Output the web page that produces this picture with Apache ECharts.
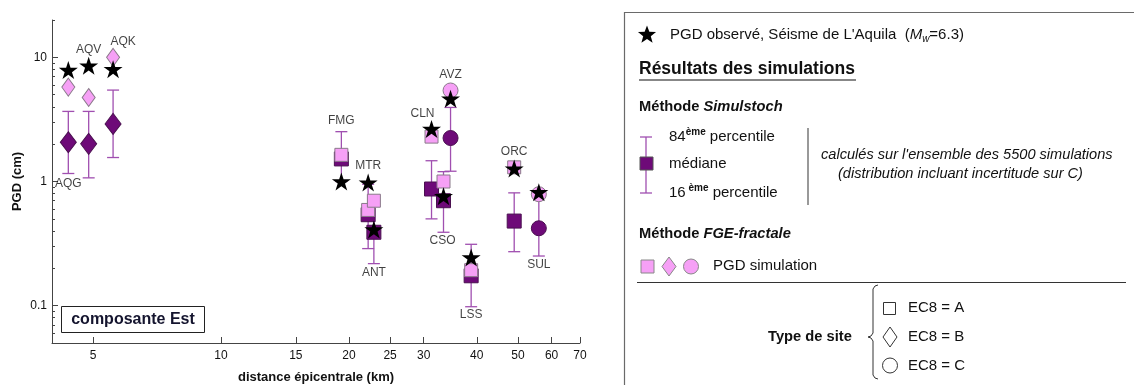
<!DOCTYPE html>
<html><head><meta charset="utf-8">
<script src="https://cdn.jsdelivr.net/npm/echarts@6/dist/echarts.min.js"></script>
<style>html,body{margin:0;padding:0;background:#fff}#c{width:1134px;height:385px}</style>
</head><body><div id="c"></div>
<script>
// ---------------- data ----------------
const stations = ['AQG','AQV','AQK','FMG','MTR','ANT','CLN','CSO','AVZ','LSS','ORC','SUL'];
const distanceKm = [4.37, 4.88, 5.57, 19.2, 22.2, 22.9, 31.3, 33.4, 34.7, 38.8, 49.0, 56.0];
const siteClass = ['B','B','B','A','A','A','A','A','C','A','A','C'];
const pgdObserved = [7.9, 8.55, 8.04, 1.0, 0.98, 0.41, 2.65, 0.76, 4.64, 0.244, 1.27, 0.82];
const pgdFgeFractal = [5.76, 4.75, 10.0, 1.64, 0.59, 0.70, 2.30, 1.0, 5.41, 0.193, 1.30, 0.79];
const pgdSimulstochMedian = [2.07, 2.01, 2.91, 1.52, 0.54, 0.39, 0.87, 0.70, 2.24, 0.174, 0.48, 0.42];
const pgdSimulstochP16 = [1.16, 1.07, 1.56, 1.0, 0.288, 0.218, 0.50, 0.39, 1.21, 0.098, 0.272, 0.251];
const pgdSimulstochP84 = [3.67, 3.67, 5.45, 2.52, 0.95, 0.68, 1.47, 1.20, 3.95, 0.312, 0.81, 0.76];
const xTickValues = [5, 10, 15, 20, 25, 30, 40, 50, 60, 70];
const yTickValues = [0.1, 1, 10];
const yMinorTickValues = [0.06,0.07,0.08,0.09,0.2,0.3,0.4,0.5,0.6,0.7,0.8,0.9,2,3,4,5,6,7,8,9,20];

// ---------------- styling / layout ----------------
const FONT = "'Liberation Sans', Arial, sans-serif";
const PINK = '#F6A0F6', PURPLE = '#6E0A78', ERR = '#A04FB0';
const STAR = 'path://M12,0 L14.8,8.6 L24,8.6 L16.6,14 L19.4,22.8 L12,17.4 L4.6,22.8 L7.4,14 L0,8.6 L9.2,8.6 Z';
const symbolBySite = {A: 'rect', B: 'diamond', C: 'circle'};
const pinkSize = {A: [13, 13], B: [13, 18], C: [15, 15]};
const purpleSize = {A: [14, 14], B: [16, 21], C: [15, 15]};
// station label placement: [position, distance, dx]
const labelPlacement = {
  AQG: ['bottom', 4, 0], AQV: ['top', 10, 0], AQK: ['top', 10, 10], FMG: ['top', 5, 0],
  MTR: ['top', 11, 0], ANT: ['bottom', 3, 0], CLN: ['top', 9, -9], CSO: ['bottom', 2, -1],
  AVZ: ['top', 10, 0], LSS: ['bottom', 2, 0], ORC: ['top', 10, 0], SUL: ['bottom', 3, 0]
};

const errData = stations.map((s, i) => [distanceKm[i], pgdSimulstochP16[i], pgdSimulstochP84[i]]);
const medianData = stations.map((s, i) => ({
  value: [distanceKm[i], pgdSimulstochMedian[i]],
  symbol: symbolBySite[siteClass[i]], symbolSize: purpleSize[siteClass[i]]
}));
const fgeData = stations.map((s, i) => ({
  value: [distanceKm[i], pgdFgeFractal[i]],
  symbol: symbolBySite[siteClass[i]], symbolSize: pinkSize[siteClass[i]]
}));
const obsData = stations.map((s, i) => [distanceKm[i], pgdObserved[i]]);
const labelData = stations.map((s, i) => {
  const p = labelPlacement[s];
  const vals = [pgdObserved[i], pgdFgeFractal[i], pgdSimulstochMedian[i], pgdSimulstochP16[i], pgdSimulstochP84[i]];
  const anchor = p[0] === 'top' ? Math.max(...vals) : Math.min(...vals);
  return {name: s, value: [distanceKm[i], anchor],
    label: {position: p[0], distance: p[1], offset: [p[2], 0]}};
});

// ---------------- legend graphics ----------------
function txt(x, y, text, extra) {
  return {type: 'text', x: x, y: y, style: Object.assign({text: text, font: '15px ' + FONT,
    fill: '#111', verticalAlign: 'middle', align: 'left'}, extra || {})};
}
function line(x1, y1, x2, y2, stroke, w) {
  return {type: 'line', shape: {x1, y1, x2, y2}, style: {stroke: stroke || '#111', lineWidth: w || 1}};
}
function starPoints(cx, cy, R) {
  const pts = [];
  for (let k = 0; k < 10; k++) {
    const r = k % 2 === 0 ? R : R * 0.42;
    const a = -Math.PI / 2 + k * Math.PI / 5;
    pts.push([cx + r * Math.cos(a), cy + r * Math.sin(a)]);
  }
  return pts;
}
const graphics = [
  // "composante Est" box
  {type: 'rect', shape: {x: 61.5, y: 306.5, width: 143, height: 26}, style: {fill: '#fff', stroke: '#222', lineWidth: 1}},
  txt(133, 320, 'composante Est', {font: 'bold 16px ' + FONT, align: 'center', fill: '#14142e'}),
  // legend frame
  {type: 'rect', shape: {x: 624.5, y: 12.5, width: 530, height: 390}, style: {fill: 'none', stroke: '#6a6a6a', lineWidth: 1.2}},
  {type: 'polygon', shape: {points: starPoints(647, 35, 9.5)}, style: {fill: '#000'}},
  {type: 'text', x: 670, y: 35, style: {
    text: "{n|PGD observé, Séisme de L'Aquila  (}{i|M}{s|w}{n|=6.3)}", fill: '#111', verticalAlign: 'middle',
    rich: {n: {font: '15px ' + FONT, lineHeight: 19, fill: '#111'},
           i: {font: 'italic 15px ' + FONT, lineHeight: 19, fill: '#111'},
           s: {font: 'italic 10px ' + FONT, lineHeight: 19, verticalAlign: 'bottom', fill: '#111'}}}},
  txt(639, 69, 'Résultats des simulations', {font: 'bold 17.5px ' + FONT}),
  line(639, 80, 856, 80, '#111', 1.2),
  {type: 'text', x: 639, y: 107, style: {text: '{b|Méthode }{bi|Simulstoch}', verticalAlign: 'middle',
    rich: {b: {font: 'bold 14.7px ' + FONT, fill: '#111'}, bi: {font: 'italic bold 14.7px ' + FONT, fill: '#111'}}}},
  // error bar legend
  line(646, 137, 646, 193, ERR, 1.3),
  line(640, 137, 652, 137, ERR, 1.3),
  line(640, 193, 652, 193, ERR, 1.3),
  {type: 'rect', shape: {x: 640, y: 157, width: 13, height: 13}, style: {fill: PURPLE, stroke: '#555', lineWidth: 1}},
  {type: 'text', x: 669, y: 137, style: {text: '{n|84}{s|ème}{n| percentile}', verticalAlign: 'middle',
    rich: {n: {font: '15px ' + FONT, lineHeight: 19, fill: '#111'}, s: {font: 'bold 10px ' + FONT, lineHeight: 19, verticalAlign: 'top', fill: '#111'}}}},
  txt(669, 164, 'médiane'),
  {type: 'text', x: 669, y: 193, style: {text: '{n|16}{s| ème}{n| percentile}', verticalAlign: 'middle',
    rich: {n: {font: '15px ' + FONT, lineHeight: 19, fill: '#111'}, s: {font: 'bold 10px ' + FONT, lineHeight: 19, verticalAlign: 'top', fill: '#111'}}}},
  line(808, 128, 808, 205, '#555', 1.2),
  txt(821, 155, "calculés sur l'ensemble des 5500 simulations", {font: 'italic 14.6px ' + FONT}),
  txt(838, 174, '(distribution incluant incertitude sur C)', {font: 'italic 14.6px ' + FONT}),
  {type: 'text', x: 639, y: 234, style: {text: '{b|Méthode }{bi|FGE-fractale}', verticalAlign: 'middle',
    rich: {b: {font: 'bold 14.7px ' + FONT, fill: '#111'}, bi: {font: 'italic bold 14.7px ' + FONT, fill: '#111'}}}},
  {type: 'rect', shape: {x: 641, y: 260, width: 13, height: 13}, style: {fill: PINK, stroke: '#888', lineWidth: 1}},
  {type: 'polygon', shape: {points: [[669, 257], [676, 266.5], [669, 276], [662, 266.5]]}, style: {fill: PINK, stroke: '#888', lineWidth: 1}},
  {type: 'circle', shape: {cx: 691, cy: 266.5, r: 7.5}, style: {fill: PINK, stroke: '#888', lineWidth: 1}},
  txt(713, 266, 'PGD simulation'),
  line(637, 282.5, 1126, 282.5, '#333', 1),
  txt(768, 337, 'Type de site', {font: 'bold 14.7px ' + FONT}),
  {type: 'polyline', shape: {points: [[878, 285], [875, 286], [873, 289], [873, 333], [871, 336], [868, 337],
    [871, 338], [873, 341], [873, 375], [875, 378], [878, 379]]},
    style: {fill: 'none', stroke: '#333', lineWidth: 1}},
  {type: 'rect', shape: {x: 883.5, y: 302.5, width: 12, height: 12}, style: {fill: 'none', stroke: '#333', lineWidth: 1}},
  txt(908, 308, 'EC8 = A'),
  {type: 'polygon', shape: {points: [[890, 327], [897, 337], [890, 347], [883, 337]]}, style: {fill: 'none', stroke: '#333', lineWidth: 1}},
  txt(908, 337, 'EC8 = B'),
  {type: 'circle', shape: {cx: 890, cy: 365.5, r: 7.5}, style: {fill: 'none', stroke: '#333', lineWidth: 1}},
  txt(908, 366, 'EC8 = C')
];

// ---------------- chart ----------------
const chart = echarts.init(document.getElementById('c'), null, {renderer: 'canvas'});
chart.setOption({
  animation: false,
  backgroundColor: '#fff',
  textStyle: {fontFamily: FONT},
  grid: {left: 52, right: 554, top: 20, bottom: 42, containLabel: false, outerBoundsMode: 'none'},
  xAxis: {
    type: 'log', logBase: 10, min: 4, max: 70,
    name: 'distance épicentrale (km)', nameLocation: 'middle', nameGap: 28,
    nameTextStyle: {fontWeight: 'bold', fontSize: 13, fontFamily: FONT, color: '#111'},
    axisLine: {show: true, lineStyle: {color: '#444', width: 1}},
    axisTick: {show: true, inside: true, length: 6, customValues: xTickValues, lineStyle: {color: '#444'}},
    axisLabel: {customValues: xTickValues, color: '#111', fontSize: 12, margin: 7, formatter: v => String(Math.round(v))},
    splitLine: {show: false}, minorTick: {show: false}
  },
  yAxis: [{
    type: 'log', logBase: 10, min: 0.05, max: 20,
    name: 'PGD (cm)', nameLocation: 'middle', nameGap: 28, nameRotate: 90,
    nameTextStyle: {fontWeight: 'bold', fontSize: 13, fontFamily: FONT, color: '#111'},
    axisLine: {show: true, lineStyle: {color: '#444', width: 1}},
    axisTick: {show: true, inside: true, length: 6, customValues: yTickValues, lineStyle: {color: '#444'}},
    axisLabel: {customValues: yTickValues, color: '#111', fontSize: 12, margin: 5,
      formatter: v => (v < 1 ? v.toFixed(1) : String(Math.round(v)))},
    splitLine: {show: false}
  }, {
    type: 'log', logBase: 10, min: 0.05, max: 20, position: 'left',
    axisLine: {show: false},
    axisTick: {show: true, inside: true, length: 3, customValues: yMinorTickValues, lineStyle: {color: '#444'}},
    axisLabel: {show: false}, splitLine: {show: false}
  }],
  series: [{
    type: 'custom', name: 'err', data: errData, z: 2,
    renderItem: function (params, api) {
      const top = api.coord([api.value(0), api.value(2)]);
      const bot = api.coord([api.value(0), api.value(1)]);
      const hw = 6;
      const st = {stroke: ERR, lineWidth: 1.3};
      return {type: 'group', children: [
        {type: 'line', shape: {x1: top[0], y1: top[1], x2: bot[0], y2: bot[1]}, style: st},
        {type: 'line', shape: {x1: top[0] - hw, y1: top[1], x2: top[0] + hw, y2: top[1]}, style: st},
        {type: 'line', shape: {x1: bot[0] - hw, y1: bot[1], x2: bot[0] + hw, y2: bot[1]}, style: st}
      ]};
    }
  }, {
    type: 'scatter', name: 'median', data: medianData, z: 3,
    itemStyle: {color: PURPLE, borderColor: '#4a1050', borderWidth: 1, opacity: 1}
  }, {
    type: 'scatter', name: 'fge', data: fgeData, z: 4,
    itemStyle: {color: PINK, borderColor: '#8a7a8a', borderWidth: 1, opacity: 1}
  }, {
    type: 'scatter', name: 'obs', data: obsData, z: 5, symbol: STAR, symbolSize: [19, 18],
    itemStyle: {color: '#000', opacity: 1}
  }, {
    type: 'scatter', name: 'labels', data: labelData, z: 6, symbolSize: 0, silent: true,
    label: {show: true, formatter: '{b}', color: '#111', fontSize: 12, fontFamily: FONT}
  }],
  graphic: graphics
});
</script>
</body></html>
